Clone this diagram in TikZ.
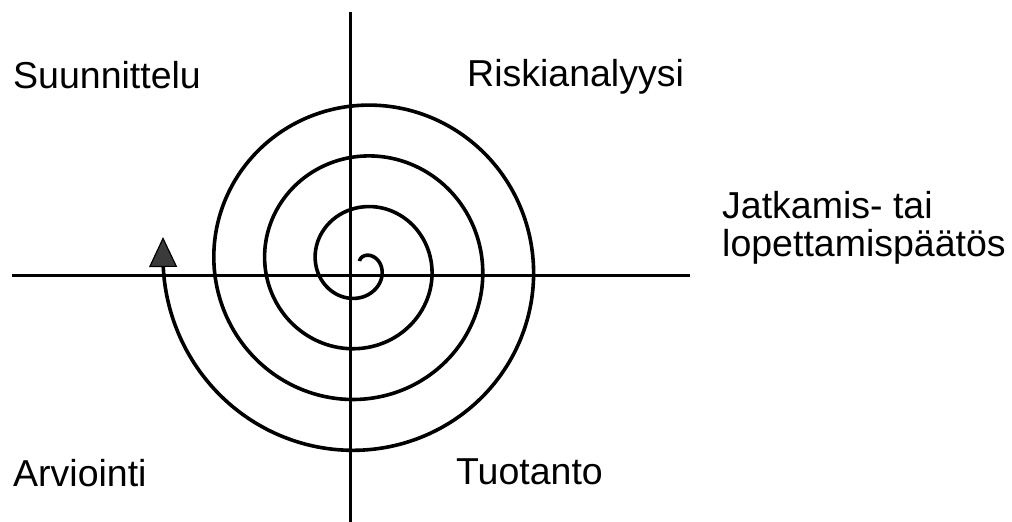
\documentclass[tikz,border=0pt]{standalone}
\usepackage{fontspec}
\setmainfont{Liberation Sans}
\usepackage{tikz}
\usetikzlibrary{positioning, calc, arrows.meta}

\definecolor{arrowgray}{HTML}{3A3A3A}

\begin{document}
\begin{tikzpicture}[
    x=1pt, y=-1pt,
    axis/.style={draw=black, line width=3pt},
    spiral/.style={draw=black, line width=3.6pt, line join=round},
    lbl/.style={anchor=base west, inner sep=0pt, font=\fontsize{37.5}{38}\selectfont, align=left},
    tip/.style={-{Triangle[length=30pt, width=28pt, fill=arrowgray, line width=1.2pt]}}
]

\useasboundingbox (0,0) rectangle (1012,522);

% Axes
\coordinate (vtop) at (350,12);
\coordinate (vbot) at (350,522);
\coordinate (hleft) at (12,275);
\coordinate (hright) at (690,275);
\draw[axis] (vtop) -- (vbot);
\draw[axis] (hleft) -- (hright);

% Quadrant labels
\node[lbl] (plan) at (13,88) {Suunnittelu};
\node[lbl] (risk) at (467,86) {Riskianalyysi};
\node[lbl] (decide) at (722,256) {Jatkamis- tai\\lopettamispäätös};
\node[lbl] (eval) at (13,486) {Arviointi};
\node[lbl] (prod) at (456,484) {Tuotanto};

% Spiral, growing outwards clockwise, arrow at the end
\coordinate (sptip) at (163,237);
\draw[spiral, tip] plot[domain=-20:1350, samples=320, variable=\p, smooth]
    ({361+(7+0.1414*\p)*sin(\p)}, {265-(7+0.1414*\p)*cos(\p)}) -- (sptip);

\end{tikzpicture}
\end{document}
